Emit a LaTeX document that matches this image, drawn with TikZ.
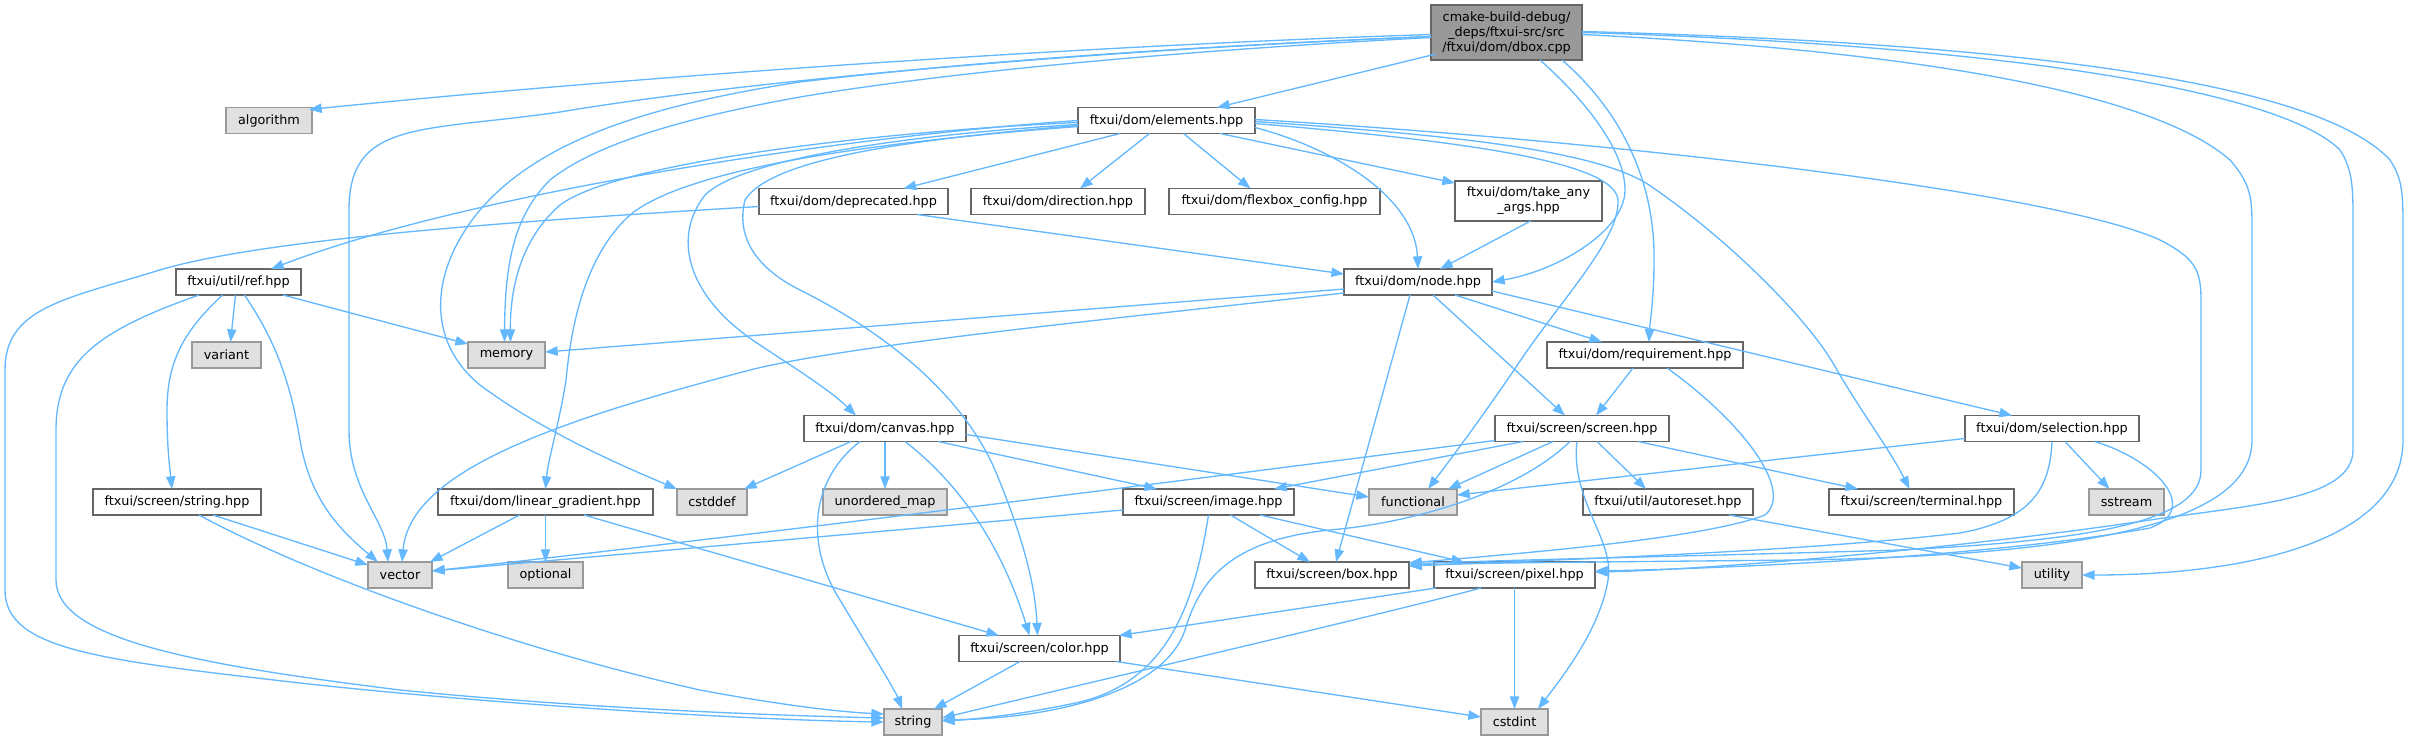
\documentclass[tikz,border=0pt]{standalone}
\usepackage{fontspec}
\setmainfont{DejaVu Sans}
\usetikzlibrary{arrows.meta,calc}
\definecolor{edgecol}{HTML}{63B8FF}
\definecolor{projborder}{HTML}{666666}
\definecolor{sysborder}{HTML}{999999}
\definecolor{sysfill}{HTML}{E0E0E0}
\definecolor{rootfill}{HTML}{999999}
\newcommand{\bx}[7]{\node[#1, minimum width=#5pt, minimum height=#6pt] (#2) at (#3,#4) {#7};}
\begin{document}
\begin{tikzpicture}[x=0.75pt,y=-0.75pt,
  every node/.style={font=\fontsize{9.6}{11.25}\selectfont, inner sep=0pt, outer sep=0pt, line width=1pt},
  proj/.style={draw=projborder, fill=white},
  sys/.style={draw=sysborder, fill=sysfill},
  root/.style={draw=projborder, fill=rootfill, align=center},
  twol/.style={draw=projborder, fill=white, align=center},
  edge/.style={draw=edgecol, line width=1pt, -{Triangle[length=9.5pt,width=7pt]}},
]
\useasboundingbox (0,0) rectangle (2409,740);
% nodes
\bx{root}{dbox}{1506.5}{32.5}{113.25}{41.25}{cmake-build-debug/\\\_deps/ftxui-src/src\\/ftxui/dom/dbox.cpp}
\bx{sys}{algorithm}{269}{120.5}{64.5}{19.5}{algorithm}
\bx{proj}{elements}{1166.5}{120.5}{132.75}{19.5}{ftxui/dom/elements.hpp}
\bx{proj}{deprecated}{853.5}{201.5}{141.75}{19.5}{ftxui/dom/deprecated.hpp}
\bx{proj}{direction}{1058}{201.5}{130.5}{19.5}{ftxui/dom/direction.hpp}
\bx{proj}{flexbox}{1274.5}{201.5}{158.25}{19.5}{ftxui/dom/flexbox\_config.hpp}
\bx{twol}{takeany}{1528.5}{201}{110.25}{30}{ftxui/dom/take\_any\\\_args.hpp}
\bx{proj}{ref}{238.5}{282}{93.75}{19.5}{ftxui/util/ref.hpp}
\bx{proj}{node}{1418}{282}{111}{19.5}{ftxui/dom/node.hpp}
\bx{sys}{variant}{226.5}{355}{51.75}{19.5}{variant}
\bx{sys}{memory}{506.5}{355}{57.75}{19.5}{memory}
\bx{proj}{requirement}{1645}{355}{147}{19.5}{ftxui/dom/requirement.hpp}
\bx{proj}{canvas}{885}{428.5}{121.5}{19.5}{ftxui/dom/canvas.hpp}
\bx{proj}{screen}{1582}{428.5}{130.5}{19.5}{ftxui/screen/screen.hpp}
\bx{proj}{selection}{2052}{428.5}{130.5}{19.5}{ftxui/dom/selection.hpp}
\bx{proj}{strhpp}{177}{502}{126}{19.5}{ftxui/screen/string.hpp}
\bx{proj}{linear}{545.5}{502}{161.25}{19.5}{ftxui/dom/linear\_gradient.hpp}
\bx{sys}{cstddef}{712}{502}{52.5}{19.5}{cstddef}
\bx{sys}{unordered}{885}{502}{93}{19.5}{unordered\_map}
\bx{proj}{image}{1208.5}{502}{128.25}{19.5}{ftxui/screen/image.hpp}
\bx{sys}{functional}{1413}{502}{66}{19.5}{functional}
\bx{proj}{autoreset}{1668}{502}{127.5}{19.5}{ftxui/util/autoreset.hpp}
\bx{proj}{terminal}{1921.5}{502}{138.75}{19.5}{ftxui/screen/terminal.hpp}
\bx{sys}{sstream}{2126.5}{502}{56.25}{19.5}{sstream}
\bx{sys}{vector}{400}{575}{48}{19.5}{vector}
\bx{sys}{optional}{545.5}{575}{56.25}{19.5}{optional}
\bx{proj}{box}{1332}{575}{115.5}{19.5}{ftxui/screen/box.hpp}
\bx{proj}{pixel}{1514.5}{575}{120.75}{19.5}{ftxui/screen/pixel.hpp}
\bx{sys}{utility}{2052}{575}{45}{19.5}{utility}
\bx{proj}{color}{1039.5}{648.5}{120.75}{19.5}{ftxui/screen/color.hpp}
\bx{sys}{string}{913}{722}{43.5}{19.5}{string}
\bx{sys}{cstdint}{1514.5}{722}{50.25}{19.5}{cstdint}
% dbox edges
\draw[edge] ($(dbox.west)+(0,2)$) .. controls (1100,45) and (650,75) .. ($(algorithm.north east)+(-3,2)$);
\draw[edge] ($(dbox.west)+(0,4)$) .. controls (1100,50) and (750,80) .. (560,112) .. controls (420,132) and (349,120) .. (349,210) -- (349,430) .. controls (349,490) and (385,520) .. ($(vector.north)+(-12,0)$);
\draw[edge] ($(dbox.west)+(0,5)$) .. controls (1100,55) and (900,80) .. (800,97) .. controls (700,115) and (600,140) .. (550,180) .. controls (515,215) and (505,260) .. ($(memory.north)+(-2,0)$);
\draw[edge] ($(dbox.west)+(0,4)$) .. controls (1100,50) and (900,70) .. (800,82) .. controls (650,105) and (540,140) .. (480,210) .. controls (430,270) and (425,340) .. (480,385) .. controls (540,430) and (620,465) .. (cstddef.north west);
\draw[edge] ($(dbox.south west)+(5,-6)$) -- ($(elements.north east)+(-38,0)$);
\draw[edge] ($(dbox.south east)+(-42,0)$) .. controls (1585,100) and (1625,150) .. (1625,190) .. controls (1625,230) and (1560,270) .. (node.east);
\draw[edge] ($(dbox.south east)+(-20,0)$) .. controls (1620,110) and (1655,180) .. (1654,260) .. controls (1654,300) and (1650,320) .. ($(requirement.north)+(4,0)$);
\draw[edge] ($(dbox.east)+(0,2)$) .. controls (1900,50) and (2150,90) .. (2230,160) .. controls (2252,185) and (2252,200) .. (2252,230) -- (2252,440) .. controls (2252,520) and (2100,555) .. (1800,560) .. controls (1600,562) and (1450,563) .. ($(box.east)+(0,-9)$);
\draw[edge] (dbox.east) .. controls (2000,45) and (2280,90) .. (2340,150) .. controls (2353,170) and (2353,190) .. (2353,220) -- (2353,450) .. controls (2353,500) and (2250,505) .. (2150,520) .. controls (1950,550) and (1700,570) .. ($(pixel.east)+(0,-3)$);
\draw[edge] ($(dbox.east)+(0,-1)$) .. controls (2100,45) and (2330,95) .. (2390,160) .. controls (2403,180) and (2403,195) .. (2403,230) -- (2403,440) .. controls (2403,540) and (2250,575) .. (utility.east);
% elements edges
\draw[edge] ($(elements.south west)+(42,0)$) -- ($(deprecated.north)+(50,0)$);
\draw[edge] ($(elements.south)+(-17,0)$) -- ($(direction.north)+(22,0)$);
\draw[edge] ($(elements.south)+(17,0)$) -- ($(flexbox.north)+(-24,0)$);
\draw[edge] ($(elements.south east)+(-35,0)$) -- ($(takeany.north west)+(0,2)$);
\draw[edge] ($(elements.east)+(0,7)$) .. controls (1340,150) and (1415,200) .. (node.north);
\draw[edge] (elements.west) .. controls (800,140) and (450,200) .. ($(ref.north east)+(-30,0)$);
\draw[edge] ($(elements.west)+(0,2)$) .. controls (900,130) and (620,160) .. (560,205) .. controls (520,240) and (510,290) .. ($(memory.north)+(4,0)$);
\draw[edge] ($(elements.west)+(0,4)$) .. controls (900,135) and (740,160) .. (705,195) .. controls (670,240) and (690,300) .. (760,345) .. controls (790,365) and (830,390) .. ($(canvas.north)+(-29,0)$);
\draw[edge] ($(elements.west)+(0,5)$) .. controls (900,140) and (770,160) .. (745,200) .. controls (735,240) and (760,270) .. (800,290) .. controls (880,330) and (960,390) .. (995,470) .. controls (1020,530) and (1035,580) .. ($(color.north)+(-2,0)$);
\draw[edge] ($(elements.west)+(0,6)$) .. controls (900,140) and (690,165) .. (630,215) .. controls (580,260) and (570,340) .. (566,380) .. controls (560,420) and (548,460) .. (linear.north);
\draw[edge] ($(elements.east)+(0,3)$) .. controls (1450,140) and (1615,160) .. (1618,200) .. controls (1620,240) and (1560,300) .. (1514,370) .. controls (1480,420) and (1450,460) .. ($(functional.north)+(15,0)$);
\draw[edge] ($(elements.east)+(0,1)$) .. controls (1450,135) and (1600,150) .. (1652,187) .. controls (1729,240) and (1810,320) .. (1837,370) .. controls (1860,410) and (1890,450) .. ($(terminal.north)+(-12,0)$);
\draw[edge] ($(elements.east)+(0,-1)$) .. controls (1600,140) and (2050,190) .. (2160,240) .. controls (2195,258) and (2201,270) .. (2201,300) -- (2201,470) .. controls (2201,520) and (2100,540) .. (1900,550) .. controls (1700,556) and (1500,560) .. ($(box.east)+(0,-11)$);
% node edges
\draw[edge] ($(node.west)+(0,7)$) -- ($(memory.east)+(0,-3)$);
\draw[edge] ($(node.south west)+(0,-2)$) .. controls (1100,320) and (850,345) .. (750,370) .. controls (560,420) and (410,470) .. ($(vector.north)+(2,0)$);
\draw[edge] ($(node.south)+(-8,0)$) -- ($(box.north)+(4,0)$);
\draw[edge] ($(node.south)+(15,0)$) -- ($(screen.north)+(-17,0)$);
\draw[edge] ($(node.south east)+(-37,0)$) -- ($(requirement.north west)+(55,0)$);
\draw[edge] ($(node.east)+(0,9)$) -- ($(selection.north)+(-40,0)$);
% requirement edges
\draw[edge] ($(requirement.south)+(-12,0)$) -- ($(screen.north)+(14,0)$);
\draw[edge] ($(requirement.south)+(22,0)$) .. controls (1740,420) and (1795,490) .. (1765,515) .. controls (1700,540) and (1500,555) .. ($(box.east)+(0,-12)$);
% screen edges
\draw[edge] ($(screen.south west)+(0,-1)$) .. controls (1200,478) and (800,530) .. ($(vector.east)+(0,-4)$);
\draw[edge] ($(screen.south west)+(28,0)$) -- ($(image.north east)+(-20,0)$);
\draw[edge] ($(screen.south)+(-29,0)$) -- ($(functional.north east)+(-9,0)$);
\draw[edge] ($(screen.south)+(15,0)$) -- ($(autoreset.north)+(-22,0)$);
\draw[edge] ($(screen.south east)+(-31,0)$) -- ($(terminal.north west)+(29,0)$);
\draw[edge] ($(screen.south)+(-12,0)$) .. controls (1520,490) and (1420,522) .. (1330,530) .. controls (1230,540) and (1200,580) .. (1185,630) .. controls (1165,690) and (1060,718) .. ($(string.east)+(0,-2)$);
\draw[edge] ($(screen.south)+(-5,0)$) .. controls (1570,500) and (1615,540) .. (1608,580) .. controls (1600,630) and (1560,680) .. ($(cstdint.north east)+(-10,0)$);
% image edges
\draw[edge] ($(image.west)+(0,8)$) -- ($(vector.east)+(0,-4)$);
\draw[edge] ($(image.south)+(22,0)$) -- ($(box.north west)+(55,0)$);
\draw[edge] ($(image.south east)+(-34,0)$) -- ($(pixel.north west)+(30,0)$);
\draw[edge] (image.south) .. controls (1195,600) and (1170,680) .. (1080,702) .. controls (1030,713) and (980,719) .. ($(string.east)+(0,-1)$);
% pixel edges
\draw[edge] ($(pixel.south west)+(2,0)$) -- ($(color.north east)+(-1,0)$);
\draw[edge] ($(pixel.south west)+(47,0)$) .. controls (1380,615) and (1100,680) .. ($(string.east)+(0,-4)$);
\draw[edge] (pixel) -- (cstdint);
% color edges
\draw[edge] ($(color.south west)+(61,0)$) -- ($(string.north east)+(-8,0)$);
\draw[edge] ($(color.south east)+(-4,0)$) -- ($(cstdint.west)+(0,-5)$);
% canvas edges
\draw[edge] ($(canvas.south west)+(47,0)$) -- ($(cstddef.north east)+(-3,0)$);
\draw[edge] (canvas) -- (unordered);
\draw[edge] ($(canvas.south west)+(56,0)$) .. controls (810,480) and (805,545) .. (840,600) .. controls (870,650) and (895,690) .. ($(string.north)+(-11,0)$);
\draw[edge] ($(canvas.south)+(20,0)$) .. controls (955,480) and (1000,540) .. ($(color.north)+(-10,0)$);
\draw[edge] ($(canvas.south east)+(-28,0)$) -- ($(image.north west)+(34,0)$);
\draw[edge] ($(canvas.east)+(0,6)$) -- ($(functional.west)+(0,-5)$);
% linear gradient edges
\draw[edge] ($(linear.south)+(-26,0)$) -- ($(vector.north east)+(-2,0)$);
\draw[edge] (linear) -- (optional);
\draw[edge] ($(linear.south east)+(-69,0)$) -- ($(color.north west)+(40,0)$);
% string.hpp edges
\draw[edge] ($(strhpp.south)+(36,0)$) -- ($(vector.north west)+(0,3)$);
\draw[edge] ($(strhpp.south)+(22,0)$) .. controls (300,570) and (500,645) .. (700,690) .. controls (780,705) and (840,712) .. ($(string.west)+(0,-8)$);
% ref edges
\draw[edge] ($(ref.south)+(-3,0)$) -- ($(variant.north)+(4,0)$);
\draw[edge] ($(ref.south east)+(-18,0)$) -- ($(memory.north west)+(0,2)$);
\draw[edge] ($(ref.south)+(-16,0)$) .. controls (185,330) and (167,360) .. (167,410) .. controls (167,450) and (170,470) .. ($(strhpp.north)+(-5,0)$);
\draw[edge] ($(ref.south)+(6,0)$) .. controls (275,340) and (290,380) .. (300,440) .. controls (310,500) and (340,530) .. ($(vector.north)+(-22,0)$);
\draw[edge] ($(ref.south west)+(23,0)$) .. controls (100,330) and (56,360) .. (56,430) -- (56,580) .. controls (56,640) and (200,665) .. (400,690) .. controls (600,710) and (800,716) .. ($(string.west)+(0,-4)$);
% deprecated edges
\draw[edge] ($(deprecated.south east)+(-31,0)$) -- ($(node.west)+(0,-8)$);
\draw[edge] ($(deprecated.west)+(0,5)$) .. controls (500,222) and (250,240) .. (150,273) .. controls (60,300) and (5,310) .. (5,370) -- (5,590) .. controls (5,650) and (100,660) .. (300,683) .. controls (500,705) and (750,720) .. (string.west);
% take any
\draw[edge] ($(takeany.south)+(2,0)$) -- ($(node.north)+(22,0)$);
% selection edges
\draw[edge] ($(selection.west)+(0,10)$) -- ($(functional.east)+(0,-7)$);
\draw[edge] ($(selection.south)+(13,0)$) -- ($(sstream.north)+(-17,0)$);
\draw[edge] (selection.south) .. controls (2050,490) and (2030,520) .. (1960,533) .. controls (1800,552) and (1550,560) .. ($(box.east)+(0,-9)$);
\draw[edge] ($(selection.south)+(43,0)$) .. controls (2160,462) and (2200,510) .. (2150,528) .. controls (2000,555) and (1750,568) .. ($(pixel.east)+(0,-4)$);
% autoreset
\draw[edge] ($(autoreset.south east)+(-24,0)$) -- ($(utility.west)+(0,-7)$);
\end{tikzpicture}
\end{document}
